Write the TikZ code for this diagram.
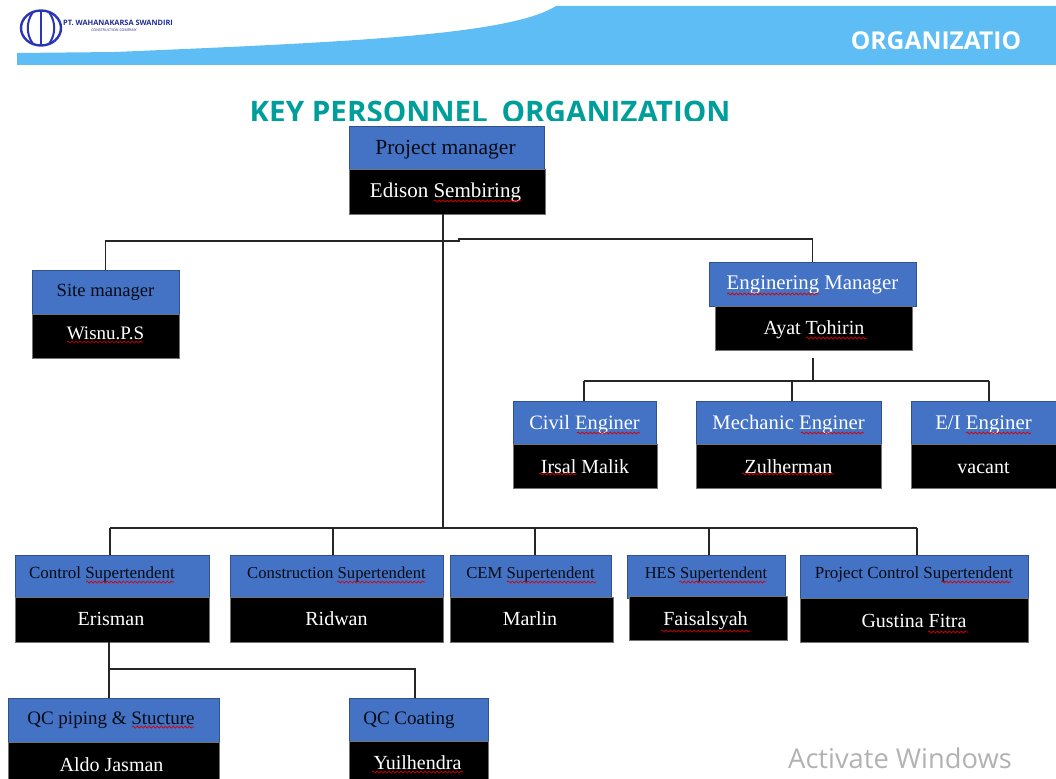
\documentclass[tikz,border=0pt]{standalone}
\usepackage{fontspec}
\setmainfont{Liberation Serif}
\newfontfamily\slidefont{Open Sans}
\usetikzlibrary{decorations.pathmorphing}
\definecolor{bandblue}{HTML}{5FBDF5}
\definecolor{headblue}{HTML}{4472C4}
\definecolor{edgeblue}{HTML}{2F528F}
\definecolor{titleteal}{HTML}{009E9A}
\definecolor{logoblue}{HTML}{2B35B8}
\newcommand{\fs}[1]{\fontsize{#1}{#1}\selectfont}
\tikzset{
  textdrop/.style={text height=#1pt, text depth=0pt},
  headbox/.style={draw=edgeblue, line width=0.8pt, fill=headblue, inner sep=0pt, text=black!90!headblue, textdrop=4.6},
  namebox/.style={draw=black!55, line width=0.6pt, fill=black, inner sep=0pt, text=white, textdrop=12.6},
  link/.style={draw=black!85, line width=1.2pt},
  spell/.style={draw=red!85!black, line width=0.7pt, decorate, decoration={snake, segment length=4pt, amplitude=1pt}}
}
\begin{document}
\begin{tikzpicture}[x=1pt, y=-1pt]
    \useasboundingbox (0,0) rectangle (1056,778);
    % top band and logo
    \fill[bandblue] (17,65) -- (17,53) -- (115,52) .. controls (350,42) and (510,35) .. (556,6) -- (1056,6) -- (1056,65) -- cycle;
    \draw[logoblue, line width=2.4pt] (41,28) ellipse [x radius=20, y radius=17.5];
    \draw[logoblue, line width=2pt] (33,12) .. controls (26,22) and (26,34) .. (33,44);
    \draw[logoblue, line width=2pt] (49,12) .. controls (56,22) and (56,34) .. (49,44);
    \draw[logoblue, line width=2pt] (41,11) -- (41,45);
    \node (firm) at (118,23) [text=logoblue!80!black, inner sep=0pt, font=\slidefont\bfseries\fs{7.4}] {PT. WAHANAKARSA SWANDIRI};
    \node (trade) at (114,30) [text=logoblue!70!black, inner sep=0pt, font=\slidefont\fs{3.6}] {CONSTRUCTION COMPANY};
    \node (tab) at (936,41) [text=white, inner sep=0pt, font=\slidefont\bfseries\fs{24.6}] {ORGANIZATIO};
    \begin{scope}
      \clip (0,0) rectangle (1056,121);
      \node (title) at (490,123) [anchor=base, text=titleteal, inner sep=0pt, font=\slidefont\bfseries\fs{29.6}] {KEY PERSONNEL\hspace{6pt} ORGANIZATION};
    \end{scope}
    % boxes
    \node (pmhead) at (446.5,147.5) [headbox, textdrop=15, minimum width=195, minimum height=43, font=\fs{21.5}] {Project manager\hspace*{2pt}};
    \node (pmname) at (447,191.5) [namebox, minimum width=196, minimum height=45, font=\fs{21}] {Edison Sembiring\hspace*{3pt}};
    \node (sitehead) at (105.5,292) [headbox, textdrop=8.6, minimum width=147, minimum height=44, font=\fs{18.6}] {Site manager};
    \node (sitename) at (105.5,336) [namebox, textdrop=7.6, minimum width=147, minimum height=44, font=\fs{19}] {Wisnu.P.S};
    \node (enghead) at (812.5,284) [headbox, textdrop=10.6, minimum width=207, minimum height=44, text=white, font=\fs{20.8}] {Enginering Manager};
    \node (engname) at (814,328) [namebox, minimum width=197, minimum height=44, font=\fs{20}] {Ayat Tohirin};
    \node (civilhead) at (584.5,422.5) [headbox, textdrop=14.6, minimum width=143, minimum height=43, text=white, font=\fs{20.4}] {Civil Enginer};
    \node (civilname) at (585,466) [namebox, textdrop=14.6, minimum width=144, minimum height=44, font=\fs{20}] {Irsal Malik};
    \node (mechhead) at (788.5,422.5) [headbox, textdrop=14.6, minimum width=185, minimum height=43, text=white, font=\fs{20.7}] {Mechanic Enginer};
    \node (mechname) at (788.5,466) [namebox, textdrop=14.6, minimum width=185, minimum height=44, font=\fs{20}] {Zulherman};
    \node (eihead) at (983.5,422.5) [headbox, textdrop=14.6, minimum width=145, minimum height=43, text=white, font=\fs{20.8}] {E/I Enginer};
    \node (einame) at (983.5,466) [namebox, textdrop=14.6, minimum width=145, minimum height=44, font=\fs{20}] {vacant};
    \node (ctrlhead) at (112,576) [headbox, minimum width=194, minimum height=42, font=\fs{17}] {Control Supertendent\hspace*{20pt}};
    \node (ctrlname) at (112,619.5) [namebox, minimum width=194, minimum height=45, font=\fs{20}] {Erisman\hspace*{2pt}};
    \node (conshead) at (336.5,576) [headbox, minimum width=213, minimum height=42, font=\fs{16.7}] {Construction Supertendent};
    \node (consname) at (336.5,619.5) [namebox, minimum width=213, minimum height=45, font=\fs{20}] {Ridwan};
    \node (cemhead) at (530.5,576) [headbox, minimum width=161, minimum height=42, font=\fs{16.7}] {CEM Supertendent};
    \node (cemname) at (531.5,619.5) [namebox, minimum width=163, minimum height=45, font=\fs{20}] {Marlin\hspace*{3pt}};
    \node (heshead) at (706,576.5) [headbox, minimum width=158, minimum height=43, font=\fs{16.5}] {HES Supertendent};
    \node (hesname) at (708,618) [namebox, textdrop=14.6, minimum width=158, minimum height=44, font=\fs{20}] {Faisalsyah\hspace*{5pt}};
    \node (pchead) at (914,576.5) [headbox, minimum width=228, minimum height=43, font=\fs{17}] {Project Control Supertendent};
    \node (pcname) at (914,620) [namebox, textdrop=14.6, minimum width=228, minimum height=44, font=\fs{20}] {Gustina Fitra};
    \node (pipehead) at (113.5,720) [headbox, textdrop=8.6, minimum width=211, minimum height=44, font=\fs{19}] {QC piping \& Stucture\hspace*{5pt}};
    \node (pipename) at (113.5,764) [namebox, textdrop=14.6, minimum width=211, minimum height=44, font=\fs{20}] {Aldo Jasman\hspace*{4pt}};
    \node (coathead) at (418.5,719.5) [headbox, textdrop=10.6, minimum width=139, minimum height=43, font=\fs{19}] {QC Coating\hspace*{19pt}};
    \node (coatname) at (418.5,763) [namebox, minimum width=139, minimum height=44, font=\fs{20}] {Yuilhendra\hspace*{2pt}};
    % spelling marks
    \foreach \xa/\xb/\ya in {434/521/201, 67/143/342, 727/819/294, 806/867/338, 577/640/433, 801/864/433, 966/1031/433,
        539/577/474, 742/834/474, 86/174/582, 337/425/582, 507/596/582, 679/766/582, 941/1011/582,
        661/750/631, 928/968/632, 132/194/727, 372/463/772}
      \draw[spell] (\xa,\ya) -- (\xb,\ya);
    % links
    \coordinate (trunktop) at (443,241);
    \coordinate (trunkend) at (443,528);
    \coordinate (stepa) at (459,241);
    \coordinate (stepb) at (459,239);
    \draw[link] (pmname.south -| trunktop) to (trunkend);
    \draw[link] (sitehead.north) |- (stepa) -- (stepb) -| (enghead.north);
    \draw[link] (110,528) -- (917,528);
    \foreach \xd/\nd in {110/ctrlhead, 333/conshead, 535/cemhead, 709/heshead, 917/pchead} {
      \coordinate (drop) at (\xd,528);
      \draw[link] (drop) to (drop |- \nd.north);
    }
    \coordinate (engend) at (813,358);
    \coordinate (engbus) at (813,381);
    \draw[link] (engend) to (engbus);
    \draw[link] (584,381) -- (989,381);
    \foreach \xd/\nd in {584/civilhead, 792/mechhead, 989/eihead} {
      \coordinate (drop) at (\xd,381);
      \draw[link] (drop) to (drop |- \nd.north);
    }
    \coordinate (qcbus) at (109,669);
    \coordinate (qcright) at (415,669);
    \draw[link] (qcbus |- ctrlname.south) to (qcbus |- pipehead.north);
    \draw[link] (qcbus) -- (qcright) -- (qcright |- coathead.north);
    % watermark
    \node (mark) at (900,758) [text=black!30, inner sep=0pt, font=\slidefont\fs{27.3}] {Activate Windows};
\end{tikzpicture}
\end{document}
